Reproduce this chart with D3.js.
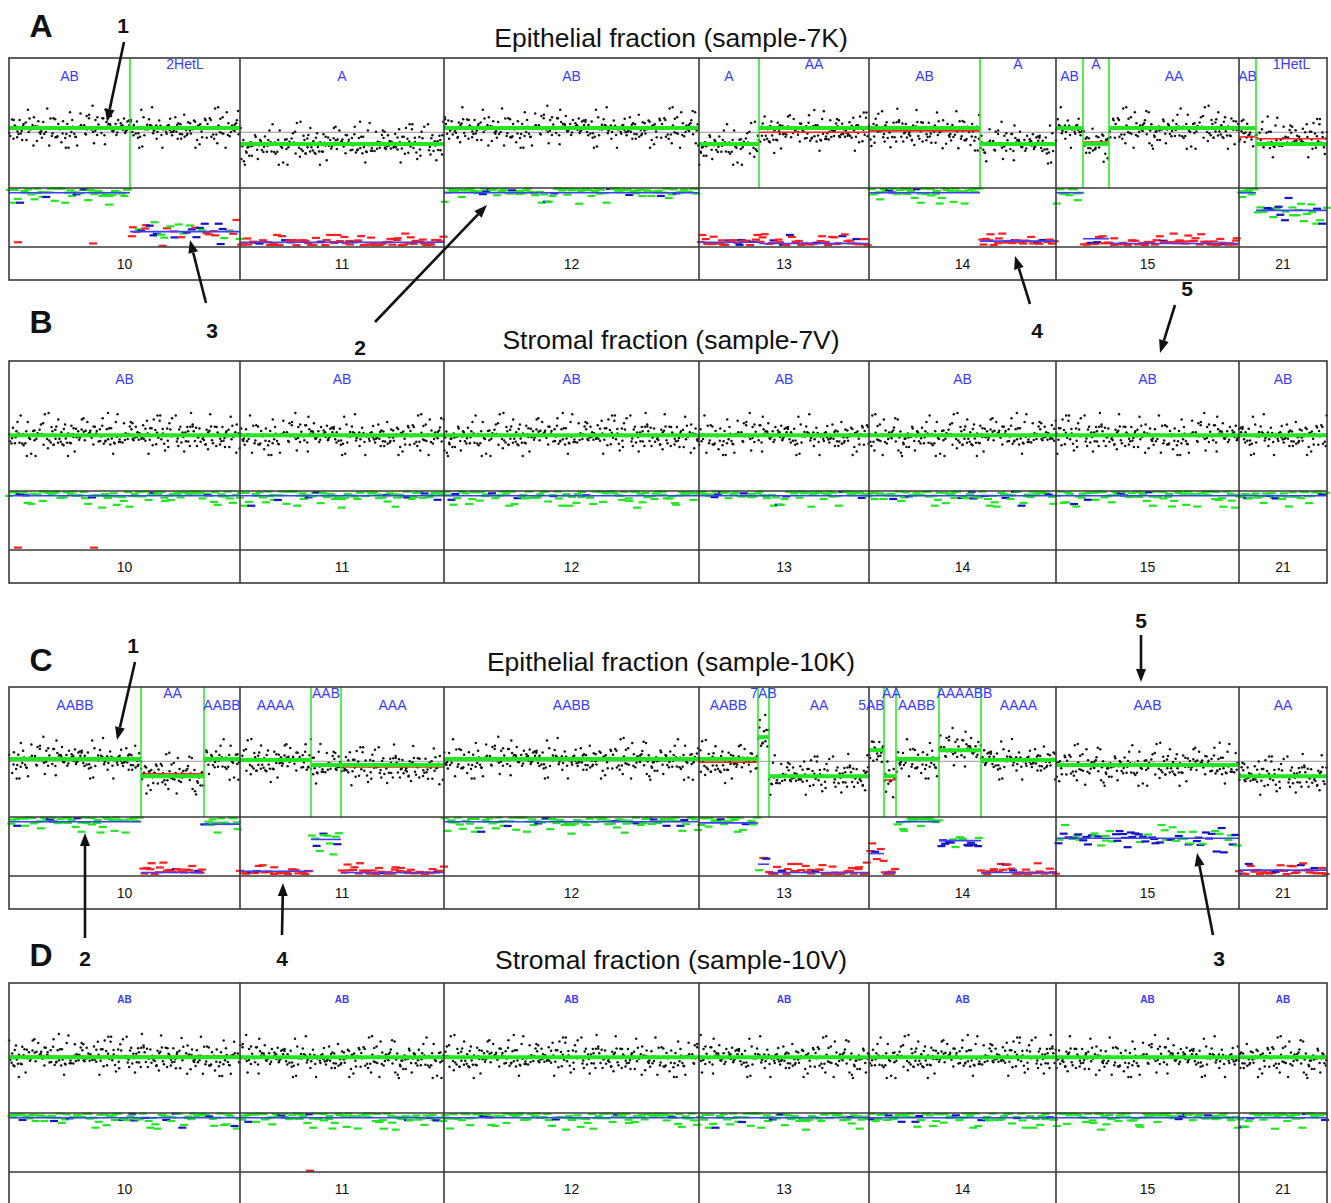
<!DOCTYPE html>
<html>
<head>
<meta charset="utf-8">
<script src="https://cdn.jsdelivr.net/npm/d3@7"></script>
<style>
  body { margin: 0; background: #fff; }
  svg { display: block; font-family: "Liberation Sans", Arial, sans-serif; }
</style>
</head>
<body>
<script>
const chroms = ['10', '11', '12', '13', '14', '15', '21']
const chromLen = [231, 204, 255, 170, 187, 183, 88]   // relative widths (SNP coverage)

// one row per segment: [chrom index, start, end, call, copy-number level, raw mean (null = none), allelic ratio]
const seg7K = [
  [0,   0, 121, 'AB',     0.09, null,  0.54],
  [0, 121, 231, '2HetL',  0.09, null,  0.87],
  [1,   0, 204, 'A',     -0.25, null,  0.96],
  [2,   0, 255, 'AB',     0.09, null,  0.54],
  [3,   0,  60, 'A',     -0.25, null,  0.96],
  [3,  60, 170, 'AA',     0.09, 0.0,   0.97],
  [4,   0, 111, 'AB',     0.09, 0.03,  0.54],
  [4, 111, 187, 'A',     -0.25, null,  0.95],
  [5,   0,  27, 'AB',     0.09, null,  0.54],
  [5,  27,  53, 'A',     -0.25, -0.21, 0.93],
  [5,  53, 183, 'AA',     0.09, null,  0.97],
  [6,   0,  17, 'AB',     0.09, -0.1,  0.54],
  [6,  17,  88, '1HetL', -0.25, -0.14, 0.69]
]
const seg7V = [
  [0, 0, 231, 'AB', 0.0, null, 0.54],
  [1, 0, 204, 'AB', 0.0, null, 0.54],
  [2, 0, 255, 'AB', 0.0, null, 0.54],
  [3, 0, 170, 'AB', 0.0, null, 0.54],
  [4, 0, 187, 'AB', 0.0, null, 0.54],
  [5, 0, 183, 'AB', 0.0, null, 0.54],
  [6, 0,  88, 'AB', 0.0, null, 0.54]
]
const seg10K = [
  [0,   0, 132, 'AABB',    0.05, null,  0.54],
  [0, 132, 195, 'AA',     -0.32, -0.27, 0.97],
  [0, 195, 231, 'AABB',    0.05, null,  0.56],
  [1,   0,  71, 'AAAA',    0.03, 0.0,   0.96],
  [1,  71, 101, 'AAB',    -0.08, null,  0.69],
  [1, 101, 204, 'AAA',    -0.08, -0.12, 0.97],
  [2,   0, 255, 'AABB',    0.05, null,  0.54],
  [3,   0,  59, 'AABB',    0.05, -0.02, 0.55],
  [3,  59,  70, '7AB',     0.52, null,  0.9],
  [3,  70, 170, 'AA',     -0.32, null,  0.97],
  [4,   0,  15, '5AB',     0.24, null,  0.81],
  [4,  15,  27, 'AA',     -0.32, -0.4,  0.97],
  [4,  27,  70, 'AABB',    0.05, null,  0.54],
  [4,  70, 112, 'AAAABB',  0.24, null,  0.7],
  [4, 112, 187, 'AAAA',    0.03, null,  0.97],
  [5,   0, 183, 'AAB',    -0.08, null,  0.68],
  [6,   0,  88, 'AA',     -0.32, null,  0.95]
]
const seg10V = [
  [0, 0, 231, 'AB', 0.0, 0.02, 0.54],
  [1, 0, 204, 'AB', 0.0, null, 0.54],
  [2, 0, 255, 'AB', 0.0, null, 0.54],
  [3, 0, 170, 'AB', 0.0, null, 0.54],
  [4, 0, 187, 'AB', 0.0, null, 0.54],
  [5, 0, 183, 'AB', 0.0, null, 0.54],
  [6, 0,  88, 'AB', 0.0, null, 0.54]
]

// single homozygous SNPs outside LOH segments: [chrom index, position, allelic ratio]
const stray7K = [[0, 9, 0.96], [0, 84, 0.97]]
const stray7V = [[0, 9, 0.98], [0, 85, 0.98]]
const stray10K = []
const stray10V = [[1, 70, 0.99]]

const letters = ['A', 'B', 'C', 'D']
const titles = ['Epithelial fraction (sample-7K)', 'Stromal fraction (sample-7V)',
                'Epithelial fraction (sample-10K)', 'Stromal fraction (sample-10V)']

// scatter pattern for probe dots and SNP dashes (digits of pi)
const PI = '1415926535897932384626433832795028841971693993751058209749445923078164062862089986280348253421170679' +
           '8214808651328230664709384460955058223172535940812848111745028410270193852110555964462294895493038196' +
           '4428810975665933446128475648233786783165271201909145648566923460348610454326648213393607260249141273' +
           '7245870066063155881748815209209628292540917153643678925903600113305305488204665213841469519415116094' +
           '3305727036575959195309218611738193261179310511854807446237996274956735188575272489122793818301194912'

const GREEN = '#22e622', RED = '#ff1f1f', BLUE = '#4040ff', DBLUE = '#1515c0', LBL = '#3b3bff', FRAME = '#3a3a3a'

const [W, H] = [1331, 1203]
const cnH = 130, bafH = 59, lblH = 33

const svg = d3.select('body').append('svg').attr('width', W).attr('height', H)

const offs = d3.cumsum([0, ...chromLen])
const x = d3.scaleLinear().domain([0, d3.sum(chromLen)]).range([9, 1327])
const cnY = d3.scaleLinear().domain([-1.2, 1.6]).range([cnH, 0])
const bafY = d3.scaleLinear().domain([0.5, 1]).range([cnH, cnH + bafH])

const Bq = [-2.7, -1.28, -0.84, -0.52, -0.25, 0, 0.25, 0.52, 0.84, 1.28, 2.9]
const L = PI.length
const nz = k => { const a = +PI[k % L], b = +PI[(k * 7 + 11) % L]; return Bq[a] + (Bq[a + 1] - Bq[a]) * (b + 0.5) / 10 }
const uf = k => (+PI[(k * 3 + 5) % L] * 10 + +PI[(k * 13 + 2) % L] + 0.5) / 100

function dotsFor(segs, seed) {
  const out = []
  let k = seed
  segs.forEach(([c, a, b, , lvl, raw]) => {
    const n = Math.round((b - a) * 1.1)
    const mid = raw ?? lvl
    for (let i = 0; i < n; i++, k++)
      out.push({ p: offs[c] + a + (b - a) * (i + uf(k)) / n, v: mid + nz(k + 101) * 0.17 })
  })
  return out
}

function dashesFor(segs, seed) {
  const out = []
  let k = seed
  segs.forEach(([c, a, b, , , , r]) => {
    const n = Math.max(2, Math.round((b - a) / 2.6))
    for (let i = 0; i < n; i++, k++) {
      const p = offs[c] + a + (b - a) * (i + uf(k)) / n
      const z = nz(k + 37), pick = +PI[(k * 11 + 7) % L]
      let v, col
      if (r < 0.6) { v = 0.5 + Math.abs(z) * 0.05; col = pick < 1 ? DBLUE : GREEN }
      else if (r < 0.8) { v = r + z * 0.045; col = pick < 4 ? DBLUE : GREEN }
      else if (r < 0.93) { v = r + z * 0.045; col = pick < 3 ? DBLUE : pick < 6 ? GREEN : RED }
      else { v = 0.985 - Math.abs(z) * 0.035; col = pick < 1 ? DBLUE : RED }
      out.push({ p, v: Math.min(0.99, Math.max(0.505, v)), col })
    }
  })
  return out
}

const panels = [
  { segs: seg7K,  stray: stray7K,  top: 58,  titleY: 47,  letterY: 37,  small: false },
  { segs: seg7V,  stray: stray7V,  top: 361, titleY: 349, letterY: 333, small: false },
  { segs: seg10K, stray: stray10K, top: 687, titleY: 671, letterY: 671, small: false },
  { segs: seg10V, stray: stray10V, top: 983, titleY: 969, letterY: 966, small: true }
]

panels.forEach((P, pi) => {
  svg.append('text').text(titles[pi])
    .attr('x', 671).attr('y', P.titleY).attr('text-anchor', 'middle')
    .attr('font-size', 26.5).attr('fill', '#111')
  svg.append('text').text(letters[pi])
    .attr('x', 41).attr('y', P.letterY).attr('text-anchor', 'middle')
    .attr('font-size', 32).attr('font-weight', 'bold').attr('fill', '#111')

  const g = svg.append('g').attr('transform', `translate(0,${P.top})`)

  // reference line
  g.append('line').attr('x1', x(0)).attr('x2', x(offs[7]))
    .attr('y1', cnY(0)).attr('y2', cnY(0)).attr('stroke', '#9a9a9a').attr('stroke-width', 1)

  // probe dots
  g.append('g').selectAll('circle')
    .data(dotsFor(P.segs, pi * 1777))
    .join('circle')
      .attr('cx', d => x(d.p)).attr('cy', d => cnY(d.v)).attr('r', 1.25).attr('fill', '#111')

  // raw segment means
  g.append('g').selectAll('line')
    .data(P.segs.filter(s => s[5] !== null))
    .join('line')
      .attr('x1', d => x(offs[d[0]] + d[1])).attr('x2', d => x(offs[d[0]] + d[2]))
      .attr('y1', d => cnY(d[5])).attr('y2', d => cnY(d[5]))
      .attr('stroke', RED).attr('stroke-width', 1.6)

  // called levels
  g.append('g').selectAll('line')
    .data(P.segs)
    .join('line')
      .attr('x1', d => x(offs[d[0]] + d[1])).attr('x2', d => x(offs[d[0]] + d[2]))
      .attr('y1', d => cnY(d[4])).attr('y2', d => cnY(d[4]))
      .attr('stroke', GREEN).attr('stroke-width', 4)

  // breakpoints
  g.append('g').selectAll('line')
    .data(P.segs.filter(s => s[1] > 0))
    .join('line')
      .attr('x1', d => x(offs[d[0]] + d[1])).attr('x2', d => x(offs[d[0]] + d[1]))
      .attr('y1', 0).attr('y2', cnH)
      .attr('stroke', GREEN).attr('stroke-width', 1.5)

  // allelic ratio: SNP dashes and segment line
  const dashes = dashesFor(P.segs, pi * 911 + 3)
    .concat(P.stray.map(([c, p, v]) => ({ p: offs[c] + p, v, col: RED })))
  g.append('g').selectAll('rect')
    .data(dashes)
    .join('rect')
      .attr('x', d => x(d.p) - 4).attr('y', d => bafY(d.v) - 1.1)
      .attr('width', 8).attr('height', 2.2).attr('fill', d => d.col)

  g.append('g').selectAll('line')
    .data(P.segs)
    .join('line')
      .attr('x1', d => x(offs[d[0]] + d[1])).attr('x2', d => x(offs[d[0]] + d[2]))
      .attr('y1', d => bafY(d[6])).attr('y2', d => bafY(d[6]))
      .attr('stroke', BLUE).attr('stroke-width', 1.6)

  // frame
  const fr = g.append('g').attr('stroke', FRAME).attr('stroke-width', 1.6).attr('fill', 'none')
  fr.append('rect').attr('x', x(0)).attr('y', 0).attr('width', x(offs[7]) - x(0)).attr('height', cnH + bafH + lblH)
  ;[cnH, cnH + bafH].forEach(yy =>
    fr.append('line').attr('x1', x(0)).attr('x2', x(offs[7])).attr('y1', yy).attr('y2', yy))
  fr.selectAll('line.chr')
    .data(offs.slice(1, 7))
    .join('line').attr('class', 'chr')
      .attr('x1', d => x(d)).attr('x2', d => x(d)).attr('y1', 0).attr('y2', cnH + bafH + lblH)

  // chromosome names
  g.append('g').selectAll('text')
    .data(chroms)
    .join('text')
      .text(d => d)
      .attr('x', (d, i) => x(offs[i] + chromLen[i] / 2))
      .attr('y', cnH + bafH + 22)
      .attr('text-anchor', 'middle').attr('font-size', 14).attr('fill', '#111')

  // genotype calls, alternating rows within a chromosome
  const rank = P.segs.map((s, i) => P.segs.slice(0, i).filter(t => t[0] === s[0]).length)
  const calls = g.append('g').selectAll('text')
    .data(P.segs)
    .join('text')
      .text(d => d[3])
      .attr('x', d => x(offs[d[0]] + (d[1] + d[2]) / 2))
      .attr('y', (d, i) => P.small ? 19.5 : (rank[i] % 2 ? 11 : 22.5))
      .attr('text-anchor', 'middle')
      .attr('font-size', P.small ? 10 : 14)
      .attr('font-weight', P.small ? 'bold' : 'normal')
      .attr('fill', LBL)

  // push apart neighbouring calls whose boxes collide
  const nodes = calls.nodes()
  for (let i = 1; i < nodes.length; i++) {
    const a = nodes[i - 1].getBBox(), b = nodes[i].getBBox()
    const ox = a.x + a.width - b.x, oy = Math.min(a.y + a.height, b.y + b.height) - Math.max(a.y, b.y)
    if (ox > 0 && oy > 0) {
      const s = ox / 2 + 0.5
      d3.select(nodes[i - 1]).attr('x', +nodes[i - 1].getAttribute('x') - s)
      d3.select(nodes[i]).attr('x', +nodes[i].getAttribute('x') + s)
    }
  }
})

// numbered arrows: [label, label x, label baseline, tail x, tail y, tip x, tip y]
const notes = [
  ['1', 123, 33, 124, 42, 107, 122],
  ['3', 212, 338, 206, 303, 190, 240],
  ['2', 360, 355, 375, 322, 487, 205],
  ['4', 1037, 338, 1030, 304, 1015, 256],
  ['5', 1187, 296, 1175, 305, 1160, 353],
  ['1', 133, 653, 135, 662, 117, 740],
  ['2', 85, 966, 85, 938, 85, 833],
  ['4', 282, 966, 282, 935, 283, 883],
  ['5', 1141, 628, 1141, 635, 1141, 682],
  ['3', 1219, 966, 1213, 935, 1197, 853]
]
const ann = svg.append('g')
notes.forEach(([t, lx, ly, x1, y1, x2, y2]) => {
  ann.append('text').text(t).attr('x', lx).attr('y', ly).attr('text-anchor', 'middle')
    .attr('font-size', 21).attr('font-weight', 'bold').attr('fill', '#111')
  const ang = Math.atan2(y2 - y1, x2 - x1), len = 13, hw = 5
  const bx = x2 - len * Math.cos(ang), by = y2 - len * Math.sin(ang)
  ann.append('line').attr('x1', x1).attr('y1', y1).attr('x2', bx).attr('y2', by)
    .attr('stroke', '#111').attr('stroke-width', 2.6)
  ann.append('path')
    .attr('d', `M${x2},${y2}L${bx + hw * Math.sin(ang)},${by - hw * Math.cos(ang)}L${bx - hw * Math.sin(ang)},${by + hw * Math.cos(ang)}Z`)
    .attr('fill', '#111')
})
</script>
</body>
</html>
